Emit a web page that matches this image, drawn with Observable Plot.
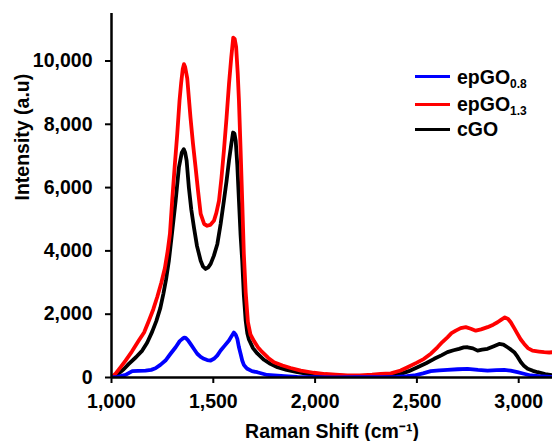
<!DOCTYPE html>
<html>
<head>
<meta charset="utf-8">
<script src="https://cdn.jsdelivr.net/npm/d3@7"></script>
<script src="https://cdn.jsdelivr.net/npm/@observablehq/plot@0.6"></script>
<style>
  html, body { margin: 0; padding: 0; background: white; }
  #wrap { position: relative; width: 552px; height: 441px; }
  .leg { position: absolute; left: 415px; height: 24px; display: flex; align-items: center;
         font-family: "Liberation Sans", Arial, sans-serif; font-weight: bold; font-size: 19.5px; line-height: 24px; color: black; white-space: nowrap; }
  .leg .sw { width: 35px; height: 3px; margin-right: 7px; }
  .leg sub { font-size: 12px; vertical-align: -4px; line-height: 0; }
</style>
</head>
<body>
<div id="wrap"></div>
<script>
// ---- data ----
const seriesNames = ["epGO0.8", "epGO1.3", "cGO"];
const seriesColors = ["#0000ff", "#ff0000", "#000000"];
const xTicks = [1000, 1500, 2000, 2500, 3000];
const yTicks = [0, 2000, 4000, 6000, 8000, 10000];

// epGO1.3 (red): [Raman shift, intensity]
const epGO13 = [[1000,0],[1020,120],[1045,330],[1069,536],[1100,820],[1134,1167],[1160,1420],[1184,1800],[1205,2150],[1225,2550],[1245,3000],[1262,3450],[1276,4000],[1287,4540],[1298,5585],[1310,6635],[1323,7700],[1334,8740],[1342,9300],[1350,9750],[1356,9900],[1362,9800],[1372,9450],[1388,8210],[1400,7400],[1413,6635],[1425,5900],[1438,5170],[1455,4850],[1470,4795],[1485,4820],[1503,4950],[1515,5200],[1528,5585],[1540,6300],[1552,7160],[1565,8200],[1577,9265],[1588,10100],[1598,10740],[1605,10700],[1612,10450],[1620,9600],[1626,8740],[1634,7200],[1642,5585],[1650,3900],[1659,2700],[1670,1750],[1683,1350],[1700,1150],[1720,950],[1741,800],[1770,620],[1798,480],[1840,380],[1880,300],[1930,220],[1993,150],[2050,110],[2100,90],[2159,70],[2220,70],[2280,90],[2322,110],[2372,130],[2420,220],[2454,325],[2500,470],[2535,590],[2570,760],[2601,955],[2625,1120],[2650,1270],[2670,1400],[2691,1480],[2715,1560],[2740,1590],[2765,1540],[2789,1480],[2815,1520],[2847,1590],[2875,1670],[2896,1745],[2915,1830],[2932,1900],[2948,1850],[2961,1745],[2978,1560],[2994,1380],[3010,1200],[3027,1060],[3045,930],[3068,850],[3100,820],[3125,800],[3150,790],[3170,800]];

// cGO (black)
const cGO = [[1000,0],[1030,100],[1060,260],[1085,430],[1120,640],[1151,850],[1175,1100],[1200,1450],[1220,1780],[1240,2200],[1255,2650],[1268,3100],[1282,3700],[1298,4600],[1315,5585],[1331,6635],[1345,7100],[1355,7215],[1362,7100],[1369,6850],[1380,6000],[1392,5300],[1405,4740],[1420,4150],[1438,3690],[1450,3500],[1462,3430],[1475,3480],[1487,3590],[1503,3850],[1520,4220],[1536,4850],[1552,5585],[1565,6200],[1577,6850],[1588,7350],[1597,7740],[1604,7700],[1610,7480],[1618,6700],[1626,5585],[1634,4500],[1642,3690],[1650,2600],[1659,1800],[1667,1400],[1675,1200],[1695,930],[1716,760],[1749,560],[1780,430],[1815,325],[1860,240],[1913,167],[1970,110],[2030,80],[2077,63],[2150,50],[2220,50],[2280,40],[2322,40],[2370,80],[2421,115],[2460,200],[2503,325],[2545,450],[2585,590],[2620,700],[2650,800],[2680,860],[2707,905],[2730,950],[2749,955],[2775,920],[2798,850],[2820,880],[2847,905],[2875,980],[2904,1060],[2925,1040],[2945,955],[2962,880],[2978,800],[2995,650],[3011,483],[3027,360],[3044,275],[3070,210],[3093,167],[3130,110],[3170,63]];

// epGO0.8 (blue)
const epGO08 = [[1000,0],[1030,20],[1069,80],[1102,200],[1130,210],[1167,220],[1195,240],[1216,290],[1240,400],[1265,536],[1290,750],[1315,955],[1335,1150],[1348,1220],[1357,1260],[1364,1250],[1375,1180],[1388,1060],[1405,900],[1421,750],[1438,650],[1454,590],[1470,550],[1487,536],[1505,600],[1520,700],[1536,852],[1555,1000],[1577,1167],[1592,1330],[1601,1420],[1610,1350],[1618,1220],[1626,955],[1634,750],[1642,536],[1650,400],[1659,325],[1667,275],[1690,200],[1716,167],[1765,80],[1798,63],[1850,40],[1913,20],[2000,10],[2100,5],[2200,10],[2300,10],[2400,20],[2450,40],[2486,63],[2530,130],[2568,200],[2610,225],[2650,240],[2700,260],[2749,275],[2800,240],[2847,220],[2890,235],[2929,240],[2960,215],[2994,167],[3030,110],[3060,63],[3100,40],[3166,20]];

const xLabel = "Raman Shift (cm\u207B\u00B9)";
const yLabel = "Intensity (a.u)";

// ---- chart ----
const font = "'Liberation Sans', Arial, Helvetica, sans-serif";
const lineOpts = (color) => ({x: d => d[0], y: d => d[1], stroke: color, strokeWidth: 3.8, clip: true, curve: "linear", strokeLinejoin: "round"});

const chart = Plot.plot({
  width: 552,
  height: 441,
  marginLeft: 111,
  marginRight: 0,
  marginTop: 13,
  marginBottom: 64,
  style: {fontFamily: font, fontSize: "19.5px", fontWeight: "bold", color: "black", background: "white"},
  x: {domain: [1000, 3166]},
  y: {domain: [0, 11500]},
  marks: [
    Plot.axisX({ticks: xTicks, tickFormat: d3.format(","), tickSize: 6, tickPadding: 11, strokeWidth: 2, label: null}),
    Plot.axisY({ticks: yTicks, tickFormat: d3.format(","), tickSize: 6, tickPadding: 13, strokeWidth: 2, label: null}),
    Plot.line(cGO, lineOpts(seriesColors[2])),
    Plot.line(epGO13, lineOpts(seriesColors[1])),
    Plot.line(epGO08, lineOpts(seriesColors[0])),
    Plot.ruleX([1000], {strokeWidth: 2.5}),
    Plot.ruleY([0], {strokeWidth: 2.5}),
    Plot.text([xLabel], {frameAnchor: "bottom", lineAnchor: "middle", dy: 54, fontSize: 19.5, fontWeight: "bold"}),
    Plot.text([yLabel], {frameAnchor: "left", lineAnchor: "middle", rotate: -90, dx: -89, dy: 5, fontSize: 19.5, fontWeight: "bold"})
  ]
});

const wrap = document.getElementById("wrap");
wrap.appendChild(chart);

// legend (HTML overlay with subscripts)
const legendRows = [
  {name: "epGO", sub: "0.8", color: seriesColors[0], cy: 76.7},
  {name: "epGO", sub: "1.3", color: seriesColors[1], cy: 104.3},
  {name: "cGO", sub: "", color: seriesColors[2], cy: 129.3}
];
for (const r of legendRows) {
  const row = document.createElement("div");
  row.className = "leg";
  row.style.top = (r.cy - 12) + "px";
  const sw = document.createElement("span");
  sw.className = "sw";
  sw.style.background = r.color;
  row.appendChild(sw);
  const t = document.createElement("span");
  t.textContent = r.name;
  if (r.sub) {
    const s = document.createElement("sub");
    s.textContent = r.sub;
    t.appendChild(s);
  }
  row.appendChild(t);
  wrap.appendChild(row);
}
</script>
</body>
</html>
